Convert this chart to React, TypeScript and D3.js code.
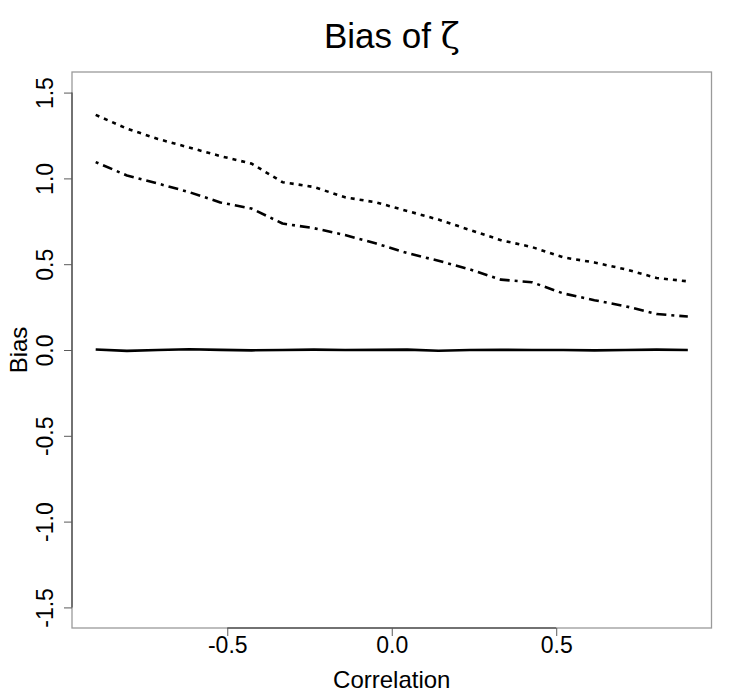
import { useEffect, useRef } from "react";
import * as d3 from "d3";

// 20 correlation values, seq(-0.9, 0.9, length = 20)
const correlation = [
	-0.9, -0.805, -0.711, -0.616, -0.521, -0.426, -0.332, -0.237, -0.142, -0.047,
	0.047, 0.142, 0.237, 0.332, 0.426, 0.521, 0.616, 0.711, 0.805, 0.9,
];

const biasSolid = [
	0.003, -0.005, 0.0, 0.004, 0.001, -0.002, 0.0, 0.002, 0.0, 0.001,
	0.002, -0.004, 0.0, 0.001, 0.0, 0.0, -0.002, 0.0, 0.002, 0.0,
];

const biasDotted = [
	1.37, 1.29, 1.23, 1.18, 1.13, 1.086, 0.978, 0.95, 0.89, 0.86,
	0.81, 0.76, 0.70, 0.64, 0.60, 0.54, 0.51, 0.47, 0.42, 0.40,
];

const biasDashDot = [
	1.095, 1.017, 0.97, 0.92, 0.86, 0.824, 0.737, 0.71, 0.67, 0.62,
	0.565, 0.52, 0.47, 0.41, 0.395, 0.33, 0.29, 0.255, 0.21, 0.195,
];

const xTicks = [-0.5, 0, 0.5];
const yTicks = [-1.5, -1.0, -0.5, 0, 0.5, 1.0, 1.5];

const W = 741;
const H = 700;
const font = "'Liberation Sans', Arial, sans-serif";

function BiasChart() {
	const svgRef = useRef<SVGSVGElement>(null);

	useEffect(() => {
		if (!svgRef.current) return;
		const svg = d3.select(svgRef.current);
		svg.selectAll("*").remove();

		const box = { left: 72, right: 711.5, top: 72, bottom: 628 };

		// R pads the data range by 4% on each side
		const xScale = d3.scaleLinear().domain([-0.972, 0.972]).range([box.left, box.right]);
		const yScale = d3.scaleLinear().domain([-1.62, 1.62]).range([box.bottom, box.top]);

		svg.append("rect")
			.attr("width", W)
			.attr("height", H)
			.attr("fill", "white");

		// plot box
		svg.append("rect")
			.attr("x", box.left)
			.attr("y", box.top)
			.attr("width", box.right - box.left)
			.attr("height", box.bottom - box.top)
			.attr("fill", "none")
			.attr("stroke", "#9a9a9a")
			.attr("stroke-width", 1.3);

		const xAxis = d3
			.axisBottom(xScale)
			.tickValues(xTicks)
			.tickSize(8)
			.tickSizeOuter(0)
			.tickFormat((d) => (d as number).toFixed(1));

		svg.append("g")
			.attr("transform", `translate(0,${box.bottom})`)
			.call(xAxis)
			.call((g) => g.select(".domain").attr("stroke", "#5a5a5a").attr("stroke-width", 1.5)
				.attr("d", `M${xScale(-0.5)},0H${xScale(0.5)}`))
			.call((g) => g.selectAll(".tick line").attr("stroke", "#5a5a5a").attr("stroke-width", 1))
			.call((g) =>
				g.selectAll(".tick text")
					.attr("fill", "black")
					.attr("font-size", "23px")
					.attr("font-family", font)
					.attr("y", 25)
					.attr("dy", null)
			);

		const yAxis = d3
			.axisLeft(yScale)
			.tickValues(yTicks)
			.tickSize(8)
			.tickSizeOuter(0)
			.tickFormat((d) => (d as number).toFixed(1));

		svg.append("g")
			.attr("transform", `translate(${box.left},0)`)
			.call(yAxis)
			.call((g) => g.select(".domain").attr("stroke", "#5a5a5a").attr("stroke-width", 1.5)
				.attr("d", `M0,${yScale(1.5)}V${yScale(-1.5)}`))
			.call((g) => g.selectAll(".tick line").attr("stroke", "#5a5a5a").attr("stroke-width", 1))
			.call((g) =>
				g.selectAll(".tick text")
					.attr("fill", "black")
					.attr("font-size", "23px")
					.attr("font-family", font)
					.attr("x", null)
					.attr("dy", null)
					.attr("text-anchor", "middle")
					.attr("transform", "translate(-19,0) rotate(-90)")
			);

		const series = [
			{ values: biasSolid, dash: null },
			{ values: biasDotted, dash: "4 5" },
			{ values: biasDashDot, dash: "3 5 10 5" },
		];

		const line = d3
			.line<number>()
			.x((_, i) => xScale(correlation[i]))
			.y((d) => yScale(d));

		for (const s of series) {
			svg.append("path")
				.datum(s.values)
				.attr("fill", "none")
				.attr("stroke", "black")
				.attr("stroke-width", 2.6)
				.attr("stroke-linejoin", "round")
				.attr("stroke-dasharray", s.dash)
				.attr("d", line);
		}

		// titles
		const title = svg.append("text")
			.attr("x", (box.left + box.right) / 2)
			.attr("y", 48)
			.attr("text-anchor", "middle")
			.attr("font-size", "35px")
			.attr("font-family", font)
			.attr("fill", "black");
		title.append("tspan").text("Bias of ");
		title.append("tspan").attr("font-family", "'DejaVu Serif', serif").text("ζ");

		svg.append("text")
			.attr("x", (box.left + box.right) / 2)
			.attr("y", 688)
			.attr("text-anchor", "middle")
			.attr("font-size", "24px")
			.attr("font-family", font)
			.attr("fill", "black")
			.text("Correlation");

		svg.append("text")
			.attr("transform", `translate(27,${(box.top + box.bottom) / 2}) rotate(-90)`)
			.attr("text-anchor", "middle")
			.attr("font-size", "24px")
			.attr("font-family", font)
			.attr("fill", "black")
			.text("Bias");
	}, []);

	return <svg ref={svgRef} width={W} height={H} style={{ position: "absolute", left: 0, top: 0 }} />;
}

export default function App() {
	return <BiasChart />;
}
